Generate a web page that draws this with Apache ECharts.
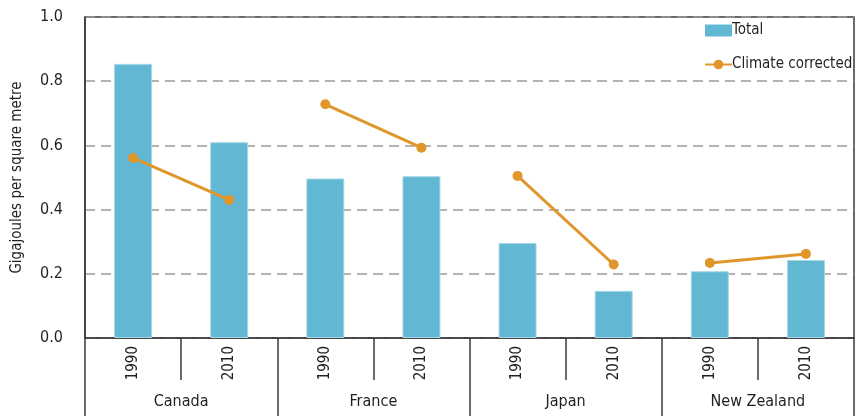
<!DOCTYPE html>
<html>
<head>
<meta charset="utf-8">
<script src="https://cdn.jsdelivr.net/npm/echarts@6/dist/echarts.min.js"></script>
<style>
html,body{margin:0;padding:0;background:#fff;}
#c{width:856px;height:416px;}
</style>
</head>
<body>
<div id="c"></div>
<script>
var years = ['1990','2010','1990','2010','1990','2010','1990','2010'];
var countries = ['Canada','France','Japan','New Zealand'];
var totalValues = [0.854, 0.610, 0.497, 0.504, 0.296, 0.147, 0.208, 0.243];
var climateCorrected = [0.561, 0.430, 0.728, 0.593, 0.505, 0.229, 0.234, 0.262];

var FONT = '"Liberation Sans Narrow", "DejaVu Sans Condensed", "Roboto Condensed", Roboto, sans-serif';
var TXT = '#231f20';
var BAR = '#62b8d3';
var LINE = '#e0962b';

var lineSeries = [];
for (var g = 0; g < countries.length; g++) {
  var d = years.map(function(){ return null; });
  d[g*2] = climateCorrected[g*2];
  d[g*2+1] = climateCorrected[g*2+1];
  lineSeries.push({
    name: 'Climate corrected',
    type: 'line',
    xAxisIndex: 0,
    data: d,
    connectNulls: false,
    symbol: 'circle',
    symbolSize: 10,
    lineStyle: {color: LINE, width: 3},
    itemStyle: {color: LINE},
    z: 5
  });
}

var chart = echarts.init(document.getElementById('c'), null, {renderer: 'canvas'});
chart.setOption({
  animation: false,
  textStyle: {fontFamily: FONT, color: TXT},
  grid: {left: 85, right: 2, top: 17, bottom: 78, show: true, borderColor: '#3a3a3a', borderWidth: 1.5},
  legend: {
    orient: 'vertical',
    left: 699,
    top: 18,
    itemGap: 19,
    itemWidth: 27,
    itemHeight: 12,
    textStyle: {fontFamily: FONT, fontSize: 15, color: TXT, padding: [0,0,0,-5]},
    data: [
      {name: 'Total', icon: 'rect', itemStyle: {borderWidth: 0, color: BAR}},
      {name: 'Climate corrected'}
    ]
  },
  xAxis: [
    {
      type: 'category',
      data: years,
      position: 'bottom',
      offset: 0,
      axisLine: {show: true, lineStyle: {color: '#3a3a3a', width: 1.5}},
      axisTick: {show: true, length: 42, lineStyle: {color: '#3a3a3a', width: 1.5}},
      axisLabel: {rotate: 90, margin: 8, fontSize: 15, color: TXT, fontFamily: FONT, interval: 0}
    },
    {
      type: 'category',
      data: countries,
      position: 'bottom',
      offset: 0,
      axisLine: {show: false},
      axisTick: {show: true, length: 78, lineStyle: {color: '#3a3a3a', width: 1.5}},
      axisLabel: {margin: 56, fontSize: 16, color: TXT, fontFamily: FONT, interval: 0}
    }
  ],
  yAxis: {
    type: 'value',
    min: 0,
    max: 1,
    interval: 0.2,
    name: 'Gigajoules per square metre',
    nameLocation: 'middle',
    nameGap: 60,
    nameTextStyle: {fontSize: 15, color: TXT, fontFamily: FONT},
    axisLine: {show: true, lineStyle: {color: '#3a3a3a', width: 1.5}},
    axisTick: {show: false},
    axisLabel: {margin: 22, fontSize: 16, color: TXT, fontFamily: FONT,
      formatter: function(v){ return v.toFixed(1); }},
    splitLine: {show: true, lineStyle: {color: '#9a9a9a', width: 1.5, type: [10, 6]}}
  },
  series: [
    {
      name: 'Total',
      type: 'bar',
      xAxisIndex: 0,
      data: totalValues,
      barWidth: 38,
      itemStyle: {color: BAR, borderColor: '#a8d8e8', borderWidth: 1},
      z: 2
    }
  ].concat(lineSeries)
});
</script>
</body>
</html>
